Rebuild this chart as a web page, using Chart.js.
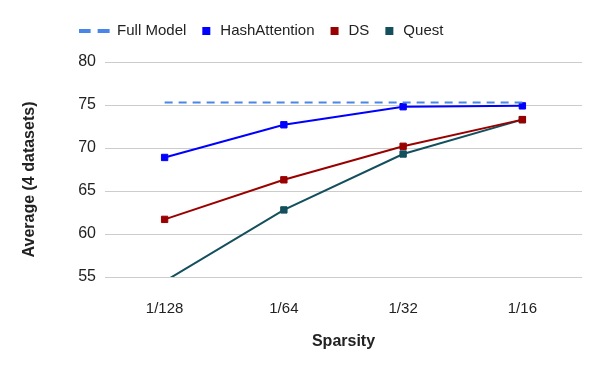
<!DOCTYPE html>
<html>
<head>
<meta charset="utf-8">
<script src="https://cdn.jsdelivr.net/npm/chart.js@4.4.1/dist/chart.umd.min.js"></script>
<style>
  html, body { margin: 0; padding: 0; background: #fff; }
  #wrap { width: 600px; height: 371px; }
</style>
</head>
<body>
<div id="wrap"><canvas id="sparsity-chart"></canvas></div>
<script>
var sparsity = ['1/128', '1/64', '1/32', '1/16'];
var fullModel = [75.3, 75.3, 75.3, 75.3];
var hashAttention = [68.9, 72.7, 74.8, 74.9];
var ds = [61.7, 66.3, 70.2, 73.3];
var quest = [54.5, 62.8, 69.3, 73.3];
var yTicks = [55, 60, 65, 70, 75, 80];

var FONT = '"Liberation Sans", Arial, sans-serif';
Chart.defaults.font.family = FONT;
Chart.defaults.color = '#222';

// little canvases used as legend markers
function dashIcon(color) {
  var c = document.createElement('canvas');
  c.width = 47; c.height = 4;
  var g = c.getContext('2d');
  g.fillStyle = color;
  g.fillRect(0, 0, 12, 4);
  g.fillRect(19, 0, 12, 4);
  return c;
}
function squareIcon(color) {
  var c = document.createElement('canvas');
  c.width = 16; c.height = 8;
  var g = c.getContext('2d');
  g.fillStyle = color;
  g.fillRect(5, 0, 8, 8);
  return c;
}

var colors = ['#4A86E8', '#0000FF', '#990000', '#134F5C'];
var legendIcons = [dashIcon(colors[0]), squareIcon(colors[1]), squareIcon(colors[2]), squareIcon(colors[3])];

function series(label, data, color) {
  return {
    label: label,
    data: data,
    borderColor: color,
    backgroundColor: color,
    borderWidth: 2,
    pointStyle: 'rect',
    pointRadius: 4.5,
    pointBorderWidth: 1,
    pointBackgroundColor: color,
    pointBorderColor: color,
    tension: 0,
    clip: 0
  };
}

var legendTweak = {
  id: 'legendTweak',
  beforeInit: function (chart) {
    var lg = chart.legend;
    var fit = lg.fit;
    lg.fit = function () {
      fit.call(this);
      this.height = 50;
    };
  },
  afterLayout: function (chart) {
    chart.legend.left -= 22;
    chart.legend.right -= 22;
  }
};

var yTitle = {
  id: 'yTitle',
  afterDraw: function (chart) {
    var ctx = chart.ctx;
    var area = chart.chartArea;
    ctx.save();
    ctx.translate(30, (area.top + area.bottom) / 2 + 10);
    ctx.rotate(-Math.PI / 2);
    ctx.font = 'bold 16px ' + FONT;
    ctx.fillStyle = '#222';
    ctx.textAlign = 'center';
    ctx.textBaseline = 'middle';
    ctx.fillText('Average (4 datasets)', 0, 0);
    ctx.restore();
  }
};

var fullDs = series('Full Model', fullModel, colors[0]);
fullDs.borderDash = [8, 6];
fullDs.pointRadius = 0;

var chart = new Chart(document.getElementById('sparsity-chart'), {
  type: 'line',
  data: {
    labels: sparsity,
    datasets: [
      fullDs,
      series('HashAttention', hashAttention, colors[1]),
      series('DS', ds, colors[2]),
      series('Quest', quest, colors[3])
    ]
  },
  options: {
    responsive: true,
    maintainAspectRatio: false,
    animation: false,
    events: [],
    layout: { padding: { left: 0, right: 18, top: 12, bottom: 0 } },
    plugins: {
      tooltip: { enabled: false },
      legend: {
        position: 'top',
        labels: {
          usePointStyle: true,
          padding: 11.5,
          font: { size: 15 },
          color: '#222',
          generateLabels: function (chart) {
            var items = Chart.defaults.plugins.legend.labels.generateLabels(chart);
            items.forEach(function (item, i) { item.pointStyle = legendIcons[i]; });
            return items;
          }
        }
      }
    },
    scales: {
      x: {
        offset: true,
        grid: { display: false },
        border: { display: false },
        ticks: { font: { size: 15 }, color: '#222', padding: 15 },
        title: {
          display: true,
          text: 'Sparsity',
          font: { size: 16, weight: 'bold' },
          color: '#222',
          padding: { top: 4, bottom: 20 }
        },
        afterFit: function (scale) { scale.height = 94; }
      },
      y: {
        min: 55,
        max: 80,
        grid: { color: '#cccccc', drawTicks: false },
        border: { display: false },
        ticks: { font: { size: 16 }, color: '#222', padding: 9 },
        afterBuildTicks: function (scale) {
          scale.ticks = yTicks.map(function (v) { return { value: v }; });
        },
        afterFit: function (scale) { scale.width = 105; }
      }
    }
  },
  plugins: [legendTweak, yTitle]
});
</script>
</body>
</html>
